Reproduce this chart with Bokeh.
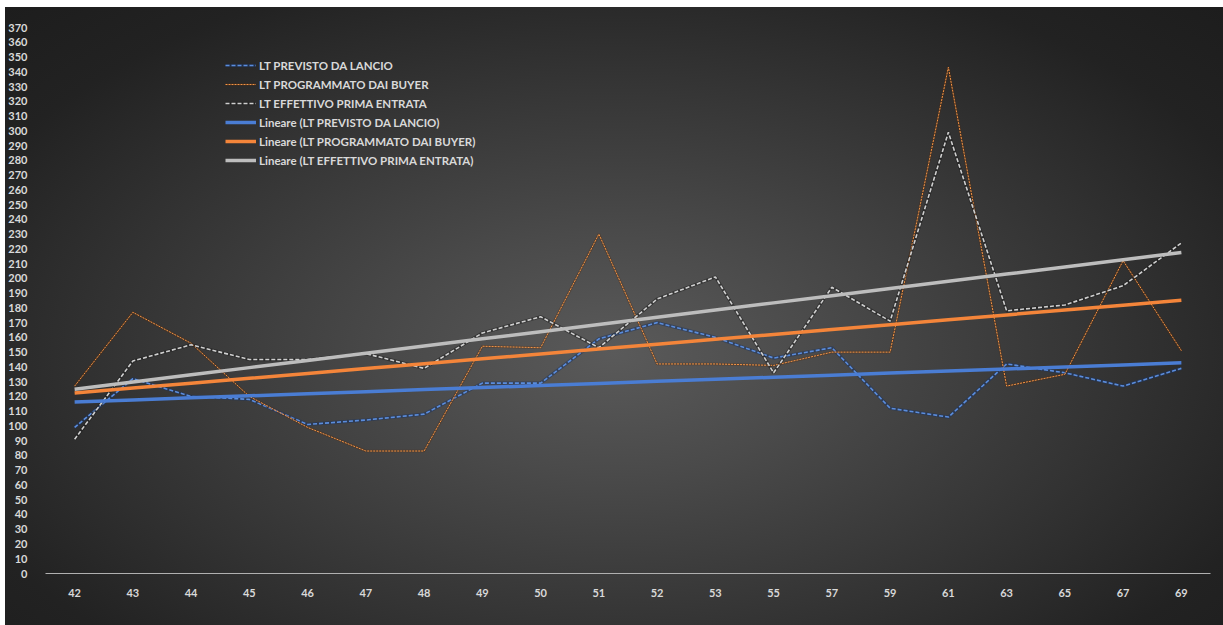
import numpy as np
from bokeh.plotting import figure
from bokeh.models import FactorRange, Range1d, FixedTicker, Legend, LegendItem
from bokeh.embed import file_html
from bokeh.resources import INLINE

# Weeks on the category axis
weeks = ["42", "43", "44", "45", "46", "47", "48", "49", "50", "51",
         "52", "53", "55", "57", "59", "61", "63", "65", "67", "69"]

# Lead times (days) per week
lt_previsto = [99, 132, 120, 118, 101, 104, 108, 129, 129, 159,
               170, 160, 146, 153, 112, 106, 142, 136, 127, 139]
lt_programmato = [127, 177, 156, 120, 99, 83, 83, 154, 153, 230,
                  142, 142, 141, 150, 150, 343, 127, 135, 212, 151]
lt_effettivo = [91, 144, 155, 145, 145, 149, 139, 163, 174, 153,
                186, 201, 136, 194, 171, 299, 178, 182, 195, 224]

names = ["LT PREVISTO DA LANCIO", "LT PROGRAMMATO DAI BUYER", "LT EFFETTIVO PRIMA ENTRATA"]
y_ticks = list(range(0, 371, 10))

FONT = "Lato"
TEXT = "#d9d9d9"

p = figure(x_range=FactorRange(*weeks), y_range=Range1d(0, 370),
           width=1218, height=618, output_backend="svg", toolbar_location=None,
           min_border_left=36, min_border_right=13, min_border_top=20, min_border_bottom=52)
p.margin = (7, 0, 0, 5)
p.styles = {"background": "radial-gradient(ellipse farthest-corner at 50% 56%, "
                          "#5a5a5a 0%, #4a4a4a 25%, #333333 58%, #222222 82%, #1d1d1d 100%)"}
p.border_fill_color = None
p.background_fill_color = None
p.outline_line_color = None
p.xgrid.visible = False
p.ygrid.visible = False

p.yaxis.ticker = FixedTicker(ticks=y_ticks)
p.yaxis.axis_line_color = None
p.yaxis.major_tick_line_color = None
p.yaxis.minor_tick_line_color = None
p.yaxis.major_label_standoff = 12
p.xaxis.axis_line_color = "#b0b0b0"
p.xaxis.major_tick_line_color = None
p.xaxis.major_label_standoff = 9
for ax in (p.xaxis[0], p.yaxis[0]):
    ax.major_label_text_font = FONT
    ax.major_label_text_font_style = "bold"
    ax.major_label_text_font_size = "11px"
    ax.major_label_text_color = TEXT

series = [lt_previsto, lt_programmato, lt_effettivo]
dash_colors = ["#5b8ddc", "#f59545", "#cfcfcf"]
shade_colors = ["#1e3560", "#5a2c0c", "#1c1c1c"]
shade_alpha = [0.55, 0.35, 0.5]
dash_styles = ["4 2", "2 1", "4 2"]
dash_widths = [1.6, 1.0, 1.6]
trend_colors = ["#4a7dd4", "#f4853a", "#bdbdbd"]

items = []
idx = np.arange(1, len(weeks) + 1)
for vals, col, shade, sa, dash, w in zip(series, dash_colors, shade_colors, shade_alpha,
                                         dash_styles, dash_widths):
    r0 = p.line(weeks, vals, line_color=shade, line_width=w + 1.6, line_alpha=sa)
    r1 = p.line(weeks, vals, line_color=col, line_width=w, line_dash=dash)
    items.append((r0, r1))

legend_items = []
for (r0, r1), name in zip(items, names):
    legend_items.append(LegendItem(label=name, renderers=[r0, r1]))

# Least-squares trend of each series over the category index
for vals, col, name in zip(series, trend_colors, names):
    slope, intercept = np.polyfit(idx, np.array(vals, dtype=float), 1)
    trend = slope * idx + intercept
    r = p.line(weeks, trend, line_color=col, line_width=3.5)
    legend_items.append(LegendItem(label=f"Lineare ({name})", renderers=[r]))

legend = Legend(items=legend_items, location=(180, 405))
legend.background_fill_alpha = 0
legend.border_line_color = None
legend.padding = 0
legend.margin = 0
legend.spacing = 3
legend.glyph_width = 31
legend.glyph_height = 16
legend.label_height = 16
legend.label_standoff = 3
legend.label_text_font = FONT
legend.label_text_font_style = "bold"
legend.label_text_font_size = "11.5px"
legend.label_text_color = TEXT
p.add_layout(legend)

open("out.html", "w").write(file_html(p, INLINE))
